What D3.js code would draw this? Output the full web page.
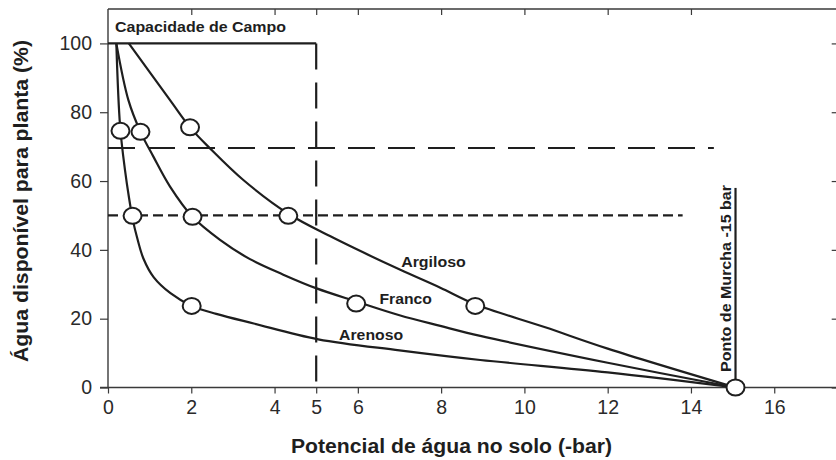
<!DOCTYPE html>
<html><head><meta charset="utf-8">
<script src="https://cdn.jsdelivr.net/npm/d3@7/dist/d3.min.js"></script>
<style>
html,body{margin:0;padding:0;background:#fff;}
svg{display:block;font-family:"Liberation Sans",Arial,sans-serif;}
</style></head>
<body><svg id="c" width="836" height="460"></svg>
<script>
// ---- data ----
const xTicks = [0, 2, 4, 5, 6, 8, 10, 12, 14, 16];
const xTopTicks = [2, 4, 5, 6, 8, 10, 12, 14];
const yTicks = [0, 20, 40, 60, 80, 100];

const arenosoX = [0.2, 0.29, 0.41, 0.5, 0.6, 0.7, 0.85, 1.1, 1.5, 2.01, 2.6, 3.5, 5.05, 7.0, 8.94, 12.0, 15.07];
const arenosoY = [100, 76, 63, 55.5, 48.5, 43.5, 37.5, 32.0, 27.4, 23.7, 21.4, 18.6, 14.0, 10.8, 8.0, 4.4, 0];
const francoX = [0.2, 0.49, 0.78, 1.09, 1.49, 2.03, 2.69, 3.41, 4.21, 5.01, 5.96, 7.0, 7.98, 8.94, 12.0, 15.07];
const francoY = [100, 83.5, 74.3, 67.1, 58.4, 49.6, 42.9, 37.3, 32.8, 28.8, 25.0, 21.0, 17.9, 15.0, 7.2, 0];
const argilosoX = [0.5, 1.49, 1.97, 2.45, 3.25, 4.33, 5.33, 6.0, 7.02, 7.98, 8.82, 10.5, 12.0, 15.07];
const argilosoY = [100, 83.5, 75.6, 69.5, 60.3, 50.5, 44.0, 40.0, 34.2, 29.0, 24.2, 17.5, 11.3, 0];

const markX = [0.30, 0.59, 2.01, 0.78, 2.03, 5.96, 1.97, 4.33, 8.82, 15.07];
const markY = [74.6, 49.9, 23.7, 74.3, 49.6, 24.4, 75.6, 49.9, 23.7, 0];

const soilNames = ["Argiloso", "Franco", "Arenoso"];
const soilLabelX = [7.04, 6.52, 5.55];
const soilLabelY = [35.1, 24.2, 13.8];
const soilLabelW = [64.7, 52.4, 64];

const capacidadeLabel = "Capacidade de Campo";
const capacidade = {x: 5, y: 100};
const line70Y = 69.6, line70End = 14.55;
const line50Y = 50, line50End = 13.8;
const murchaX = 15.07, murchaTop = 58;
const murchaLabel = "Ponto de Murcha -15 bar";

const xTitle = "Potencial de água no solo (-bar)";
const yTitle = "Água disponível para planta (%)";

// ---- chart ----
const svg = d3.select("#c");
const x = d3.scaleLinear().domain([0, 17.5]).range([108, 836.7]);
const y = d3.scaleLinear().domain([0, 110]).range([387.5, 9]);
const ink = "#1e1e1e";

// frame / axes
const gB = svg.append("g").attr("transform", `translate(0,${y(0)})`)
  .call(d3.axisBottom(x).tickValues(xTicks).tickFormat(d3.format("d")).tickSize(6).tickSizeOuter(0).tickPadding(6.5));
const gL = svg.append("g").attr("transform", `translate(${x(0)},0)`)
  .call(d3.axisLeft(y).tickValues(yTicks).tickSize(8).tickSizeOuter(0).tickPadding(8));
const gT = svg.append("g").attr("transform", `translate(0,${y(110)})`)
  .call(d3.axisBottom(x).tickValues(xTopTicks).tickSize(6).tickSizeOuter(0).tickFormat(""));
const gR = svg.append("g").attr("transform", `translate(${x(17.5)},0)`)
  .call(d3.axisLeft(y).tickValues(yTicks).tickSize(5).tickSizeOuter(0).tickFormat(""));
[gB, gL, gT, gR].forEach(g => {
  g.select(".domain").attr("stroke", "#3a3a3a").attr("stroke-width", 1.4);
  g.selectAll(".tick line").attr("stroke", "#3a3a3a").attr("stroke-width", 1.2);
  g.selectAll(".tick text").attr("font-size", 19.5).attr("fill", "#2a2a2a")
    .attr("font-family", "'Liberation Sans',Arial,sans-serif");
});
gB.select(".domain").attr("d", `M${x(0) - 8},0H${x(17.5)}`);
gL.select(".domain").attr("d", `M0,${y(0)}V${y(110)}`);
gT.select(".domain").attr("d", `M${x(0)},0H${x(17.5)}`);

// reference lines
svg.append("line").attr("x1", x(0)).attr("x2", x(capacidade.x)).attr("y1", y(100)).attr("y2", y(100))
  .attr("stroke", ink).attr("stroke-width", 2.2);
svg.append("line").attr("x1", x(capacidade.x)).attr("x2", x(capacidade.x)).attr("y1", y(100)).attr("y2", y(0))
  .attr("stroke", ink).attr("stroke-width", 2.2).attr("stroke-dasharray", "26,13");
svg.append("line").attr("x1", x(0)).attr("x2", x(line70End)).attr("y1", y(line70Y)).attr("y2", y(line70Y))
  .attr("stroke", ink).attr("stroke-width", 2.2).attr("stroke-dasharray", "27,13");
svg.append("line").attr("x1", x(0)).attr("x2", x(line50End)).attr("y1", y(line50Y)).attr("y2", y(line50Y))
  .attr("stroke", ink).attr("stroke-width", 2.2).attr("stroke-dasharray", "10,5");
svg.append("line").attr("x1", x(murchaX)).attr("x2", x(murchaX)).attr("y1", y(murchaTop)).attr("y2", y(0))
  .attr("stroke", ink).attr("stroke-width", 2.2);

// curves
const line = d3.line().x(d => x(d[0])).y(d => y(d[1])).curve(d3.curveCatmullRom.alpha(0.5));
[[arenosoX, arenosoY], [francoX, francoY], [argilosoX, argilosoY]].forEach(([xs, ys]) => {
  svg.append("path").datum(xs.map((v, i) => [v, ys[i]])).attr("d", line)
    .attr("fill", "none").attr("stroke", ink).attr("stroke-width", 2.2);
});

// markers
svg.selectAll("ellipse.m").data(markX.map((v, i) => [v, markY[i]])).enter().append("ellipse")
  .attr("class", "m").attr("cx", d => x(d[0])).attr("cy", d => y(d[1]))
  .attr("rx", 9).attr("ry", 8).attr("fill", "#fff").attr("stroke", ink).attr("stroke-width", 2);

// labels
svg.selectAll("text.soil").data(soilNames).enter().append("text").attr("class", "soil")
  .attr("x", (d, i) => x(soilLabelX[i])).attr("y", (d, i) => y(soilLabelY[i]))
  .attr("font-size", 14.5).attr("font-weight", "bold").attr("fill", ink)
  .attr("textLength", (d, i) => soilLabelW[i]).attr("lengthAdjust", "spacingAndGlyphs").text(d => d);

svg.append("text").attr("x", 115).attr("y", 32.3).attr("font-size", 14.5).attr("font-weight", "bold")
  .attr("fill", ink).attr("textLength", 171).attr("lengthAdjust", "spacingAndGlyphs").text(capacidadeLabel);

svg.append("text").attr("transform", `translate(${x(murchaX) - 5},${y(0) - 15.5}) rotate(-90)`)
  .attr("font-size", 14.5).attr("font-weight", "bold").attr("fill", ink)
  .attr("textLength", 187).attr("lengthAdjust", "spacingAndGlyphs").text(murchaLabel);

svg.append("text").attr("x", 451.5).attr("y", 453).attr("text-anchor", "middle")
  .attr("font-size", 20).attr("font-weight", "bold").attr("fill", ink)
  .attr("textLength", 321).attr("lengthAdjust", "spacingAndGlyphs").text(xTitle);
svg.append("text").attr("transform", `translate(28,201) rotate(-90)`).attr("text-anchor", "middle")
  .attr("font-size", 20).attr("font-weight", "bold").attr("fill", ink)
  .attr("textLength", 322).attr("lengthAdjust", "spacingAndGlyphs").text(yTitle);
</script></body></html>
